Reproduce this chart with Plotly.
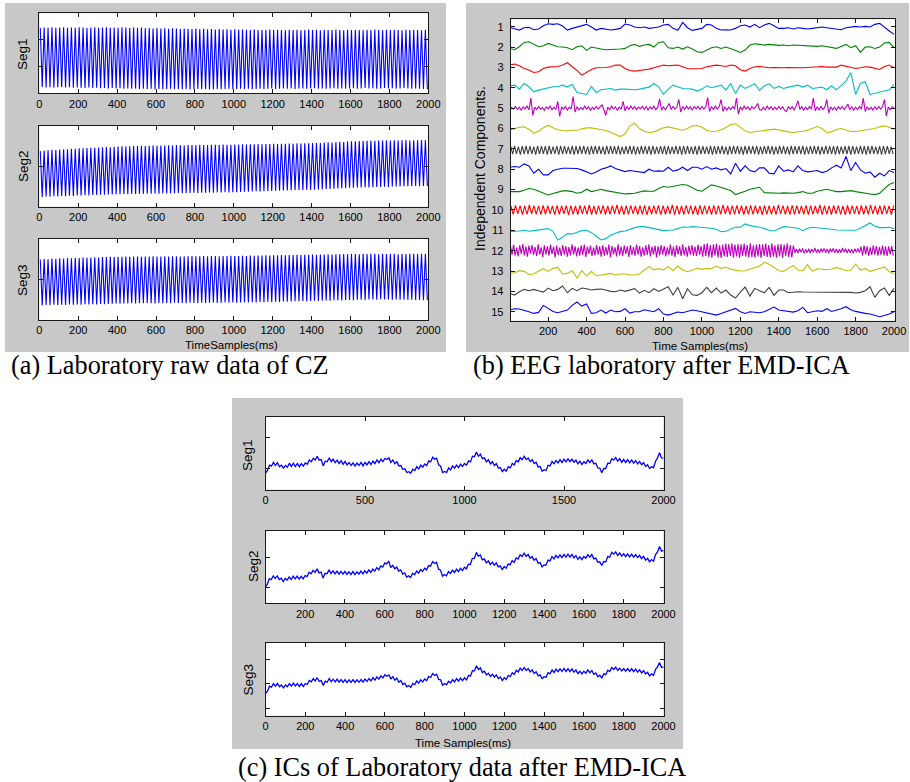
import numpy as np
import plotly.graph_objects as go

W, H = 910, 782

# ---------------- DATA ----------------
# (a) Laboratory raw data of CZ : successive peak / trough values of the (50 Hz dominated) raw signal
a_time = np.arange(5, 2000, 10)          # sample times of alternating peaks/troughs (ms)
a_seg1_peaks = [1.90,1.94,1.91,1.95,1.92,1.93,1.96,1.92,1.94,1.91,1.95,1.93,1.90,1.94,1.96,1.92,1.93,1.95,1.91,1.94,
                1.92,1.95,1.93,1.90,1.94,1.91,1.93,1.88,1.90,1.86,1.89,1.85,1.88,1.84,1.87,1.85,1.83,1.86,1.84,1.82,
                1.85,1.81,1.84,1.80,1.83,1.79,1.82,1.78,1.81,1.77,1.80,1.76,1.79,1.77,1.75,1.78,1.74,1.77,1.75,1.78,
                1.74,1.77,1.75,1.73,1.76,1.74,1.77,1.73,1.75,1.78,1.74,1.76,1.73,1.77,1.75,1.74,1.78,1.75,1.73,1.76,
                1.74,1.77,1.75,1.73,1.76,1.74,1.78,1.75,1.73,1.77,1.74,1.76,1.75,1.73,1.77,1.74,1.76,1.75,1.73,1.76]
a_seg1_troughs = [-2.52,-2.56,-2.54,-2.58,-2.55,-2.53,-2.57,-2.55,-2.59,-2.56,-2.58,-2.60,-2.57,-2.61,-2.59,-2.62,-2.60,-2.63,-2.61,-2.64,
                  -2.62,-2.65,-2.63,-2.66,-2.64,-2.67,-2.65,-2.68,-2.66,-2.69,-2.67,-2.70,-2.68,-2.66,-2.69,-2.67,-2.70,-2.68,-2.71,-2.69,
                  -2.67,-2.70,-2.68,-2.71,-2.69,-2.67,-2.70,-2.68,-2.66,-2.69,-2.67,-2.65,-2.68,-2.66,-2.69,-2.67,-2.65,-2.68,-2.66,-2.64,
                  -2.67,-2.65,-2.63,-2.66,-2.64,-2.67,-2.65,-2.63,-2.66,-2.64,-2.62,-2.65,-2.63,-2.66,-2.64,-2.62,-2.65,-2.63,-2.66,-2.64,
                  -2.62,-2.65,-2.63,-2.61,-2.64,-2.62,-2.65,-2.63,-2.61,-2.64,-2.62,-2.65,-2.63,-2.61,-2.64,-2.66,-2.63,-2.65,-2.67,-2.70]
a_seg2_peaks = [1.12,1.16,1.18,1.21,1.20,1.24,1.26,1.25,1.29,1.30,1.33,1.32,1.35,1.37,1.36,1.39,1.40,1.42,1.41,1.44,
                1.45,1.47,1.46,1.48,1.50,1.49,1.51,1.50,1.52,1.53,1.51,1.54,1.53,1.55,1.54,1.56,1.55,1.54,1.57,1.56,
                1.55,1.58,1.57,1.56,1.59,1.58,1.57,1.60,1.59,1.58,1.61,1.60,1.62,1.61,1.63,1.62,1.64,1.63,1.65,1.64,
                1.66,1.65,1.67,1.66,1.68,1.67,1.69,1.68,1.70,1.69,1.71,1.73,1.72,1.75,1.77,1.76,1.79,1.81,1.80,1.83,
                1.85,1.84,1.87,1.86,1.88,1.90,1.89,1.91,1.90,1.92,1.91,1.93,1.90,1.92,1.94,1.91,1.93,1.92,1.94,1.93]
a_seg2_troughs = [-2.28,-2.25,-2.27,-2.23,-2.24,-2.21,-2.22,-2.19,-2.20,-2.17,-2.18,-2.15,-2.16,-2.13,-2.14,-2.11,-2.12,-2.09,-2.10,-2.07,
                  -2.08,-2.06,-2.07,-2.05,-2.06,-2.04,-2.05,-2.03,-2.04,-2.02,-2.03,-2.01,-2.02,-2.00,-2.01,-1.99,-2.00,-1.98,-1.99,-1.97,
                  -1.98,-1.96,-1.97,-1.95,-1.96,-1.94,-1.95,-1.93,-1.94,-1.92,-1.93,-1.91,-1.90,-1.89,-1.88,-1.86,-1.87,-1.85,-1.84,-1.83,
                  -1.82,-1.81,-1.80,-1.79,-1.78,-1.77,-1.76,-1.77,-1.75,-1.76,-1.74,-1.72,-1.71,-1.69,-1.68,-1.66,-1.65,-1.63,-1.62,-1.60,
                  -1.59,-1.58,-1.57,-1.56,-1.57,-1.55,-1.54,-1.53,-1.52,-1.53,-1.51,-1.50,-1.51,-1.49,-1.48,-1.49,-1.47,-1.48,-1.46,-1.47]
a_seg3_peaks = [1.46,1.50,1.49,1.53,1.52,1.55,1.54,1.57,1.56,1.59,1.58,1.61,1.60,1.62,1.63,1.62,1.65,1.64,1.66,1.65,
                1.67,1.66,1.68,1.67,1.69,1.68,1.67,1.69,1.68,1.70,1.69,1.68,1.70,1.69,1.71,1.70,1.69,1.71,1.70,1.72,
                1.71,1.70,1.72,1.71,1.73,1.72,1.71,1.73,1.72,1.74,1.73,1.72,1.74,1.73,1.75,1.74,1.76,1.75,1.77,1.76,
                1.78,1.77,1.79,1.78,1.80,1.79,1.81,1.80,1.82,1.81,1.83,1.82,1.84,1.83,1.85,1.84,1.86,1.85,1.87,1.86,
                1.88,1.87,1.86,1.88,1.87,1.89,1.88,1.86,1.88,1.87,1.89,1.88,1.86,1.88,1.87,1.89,1.88,1.87,1.89,1.88]
a_seg3_troughs = [-1.92,-1.89,-1.91,-1.88,-1.90,-1.87,-1.89,-1.86,-1.88,-1.85,-1.87,-1.84,-1.86,-1.83,-1.85,-1.82,-1.84,-1.81,-1.80,-1.79,
                  -1.80,-1.78,-1.79,-1.77,-1.78,-1.76,-1.77,-1.75,-1.76,-1.78,-1.75,-1.77,-1.74,-1.76,-1.73,-1.75,-1.74,-1.76,-1.73,-1.75,
                  -1.74,-1.72,-1.75,-1.73,-1.71,-1.74,-1.72,-1.70,-1.73,-1.71,-1.72,-1.70,-1.69,-1.71,-1.68,-1.70,-1.67,-1.69,-1.66,-1.68,
                  -1.65,-1.67,-1.64,-1.66,-1.63,-1.62,-1.61,-1.60,-1.62,-1.59,-1.58,-1.60,-1.57,-1.56,-1.58,-1.55,-1.54,-1.56,-1.53,-1.52,
                  -1.54,-1.51,-1.50,-1.52,-1.49,-1.48,-1.50,-1.47,-1.49,-1.48,-1.50,-1.49,-1.51,-1.50,-1.52,-1.51,-1.53,-1.52,-1.54,-1.53]
a_xticks = [0, 200, 400, 600, 800, 1000, 1200, 1400, 1600, 1800, 2000]

# (b) EEG laboratory after EMD-ICA : 15 independent components (amplitude units, + = up)
ic_time_smooth = np.arange(0, 2001, 25)
ic_time_5 = np.arange(0, 2001, 10)
ic_time_7 = np.arange(5, 2000, 10)
ic_time_10 = np.arange(6, 2000, 12)
ic_time_12 = np.arange(4, 2000, 8)

ic1 = [-2,-5,-10,-3,-2,-9,-7,3,9,7,9,2,-10,-5,-1,5,7,-1,-10,-5,-7,-10,-8,-5,8,5,-1,-3,-1,-5,-3,-1,5,7,-5,-11,13,-3,-11,-8,-5,
       7,5,-5,-10,-9,-10,-5,3,5,-1,7,-3,5,10,3,-5,-5,-3,-7,-3,-5,-7,-5,-3,-1,-3,-5,-8,-9,-3,0,1,-1,1,-1,7,10,-3,-13,-23]
ic2 = [-4,-8,1,14,16,8,1,4,11,6,1,0,-2,-8,1,4,-10,0,-4,-6,-8,-8,-7,-6,-4,4,8,2,6,8,0,14,16,-2,-4,0,-6,1,-6,-14,-16,
       -8,-2,1,-4,0,-4,-10,-16,-9,6,10,8,6,8,6,5,6,4,6,5,3,4,1,2,4,2,0,-4,2,8,-2,4,-16,0,1,-4,0,12,14,-2]
ic3 = [7,10,5,-3,-8,-15,-13,-3,1,2,3,7,14,2,-9,-23,-15,-6,-1,-1,0,2,7,7,-3,-9,-11,-9,-8,-5,-1,3,7,5,7,7,2,-3,-4,-4,-3,
       2,5,7,5,3,7,5,-7,-11,-3,2,3,1,-1,0,-1,-1,0,-1,0,-1,0,1,2,3,1,0,1,7,3,-1,-3,-1,2,1,-3,-6,3,7,-1]
ic4 = [6,8,-4,13,3,-12,-7,-4,-2,3,3,8,3,10,-14,-17,-20,4,-14,-6,-4,-2,-7,-4,-4,-5,-6,-4,-2,2,13,3,-20,-4,8,4,-2,-3,-4,-10,-4,
       6,0,4,8,-7,13,-17,8,-2,4,12,-8,6,12,-2,4,-2,2,6,8,2,8,-2,0,2,-6,6,-6,8,20,46,-20,13,18,-20,-17,-12,-11,-6,10]
ic5 = [-8,2,-3,5,-4,3,-6,4,-2,6,-5,30,-22,3,-4,5,-3,2,-6,4,
       -2,6,-5,3,-4,20,-25,4,-3,5,-6,3,-2,35,-12,4,-5,2,-4,6,
       -3,4,-6,2,-4,5,-3,3,10,-4,-22,3,-5,6,-2,4,-6,3,-3,20,
       -8,5,-4,6,-3,4,-5,3,-2,6,-4,5,-6,4,-3,6,-5,3,28,-6,
       4,-5,6,14,-4,5,-3,4,26,-12,5,-4,6,-3,4,-6,5,-2,6,-4,
       5,-3,4,32,-10,5,-4,6,-3,4,26,-10,4,-6,3,-4,5,-3,30,-18,
       4,-5,6,-3,4,-6,5,-2,4,14,-4,-6,3,-5,6,-3,4,-5,3,-4,
       5,-3,4,-6,-10,5,-3,4,-5,6,22,-4,5,-6,3,-4,5,-3,30,-8,
       4,-5,6,-4,3,26,-14,4,-5,3,-6,4,-3,5,-4,3,12,-5,4,-6,
       3,-4,5,-3,30,-10,4,-5,3,-6,4,-4,5,-3,4,26,-24,3,-5,4,2]
ic6 = [-5,-1,4,5,-2,-14,-8,2,10,2,-4,-6,-7,-5,-5,-1,2,2,0,-2,-6,-11,-17,-24,-16,8,16,0,-8,-12,-10,-4,2,5,2,-2,-5,0,8,9,4,
       -5,-9,-8,-4,3,12,14,3,-7,-12,-10,-8,-6,-4,-2,-4,-8,-10,-12,-11,-8,-5,0,6,0,-12,-10,-3,0,-4,-9,-9,-7,-5,-3,0,5,8,4,-3]
ic7 = [8,-16,9,-15,7,-17,8,-16,9,-16,8,-15,7,-17,9,-16,8,-15,8,-17,
       9,-16,7,-15,8,-17,9,-16,8,-15,7,-16,9,-17,8,-16,8,-15,9,-16,
       7,-17,8,-16,9,-15,8,-16,7,-17,9,-16,8,-15,8,-16,9,-17,7,-16,
       8,-15,9,-16,8,-17,7,-16,9,-15,8,-16,8,-17,9,-16,7,-15,8,-16,
       9,-17,8,-16,7,-15,9,-16,8,-17,8,-16,9,-15,7,-16,8,-17,9,-16,
       8,-15,7,-16,9,-17,8,-16,8,-15,9,-16,7,-17,8,-16,9,-15,8,-16,
       7,-17,9,-16,8,-15,8,-16,9,-17,7,-16,8,-15,9,-16,8,-17,7,-16,
       9,-15,8,-16,7,-17,9,-16,8,-15,8,-16,9,-17,7,-16,8,-15,9,-16,
       8,-17,7,-16,9,-15,8,-16,8,-17,9,-16,7,-15,8,-16,9,-17,8,-16,
       7,-15,9,-16,8,-17,8,-16,9,-15,7,-16,8,-17,9,-16,8,-15,7,-16]
ic8 = [6,8,6,16,10,-12,0,-17,-17,-4,0,3,3,3,2,-2,-8,-14,-8,0,4,10,2,-2,-7,-4,-6,-8,-10,0,-6,-5,-6,6,-6,-2,6,-4,6,6,0,
       8,0,4,-2,2,-14,18,-6,10,-4,-8,4,4,-12,-14,10,-6,-2,-8,10,-4,-8,-6,-4,-10,-6,4,12,4,38,-4,20,-2,-12,-8,-24,-12,-20,-4,-10]
ic9 = [-6,-6,-6,-2,3,1,-5,-12,-16,-12,-7,-4,-4,-6,-11,-8,1,-6,-3,1,-3,-6,-9,-11,-13,-12,-11,-7,-4,-5,-5,3,9,7,9,11,15,13,5,-2,-5,
       5,14,11,6,2,-3,-15,-11,-5,1,5,7,-9,-10,-11,-11,-10,-11,-11,-9,-6,-11,-11,-5,-3,1,-3,-6,-6,-5,-3,-6,-9,-11,-13,-15,-11,3,15,21]
ic10 = [12,-13,14,-12,13,-14,12,-13,15,-12,13,-13,12,-14,14,-13,13,-12,12,-14,
        14,-13,12,-12,13,-15,13,-13,12,-14,14,-12,13,-13,15,-14,12,-13,13,-12,
        14,-14,12,-13,13,-12,15,-13,12,-14,13,-13,14,-12,12,-14,13,-13,14,-15,
        12,-13,13,-12,14,-14,13,-13,12,-12,15,-14,13,-13,12,-14,14,-12,13,-13,
        12,-15,14,-13,13,-12,12,-14,14,-13,13,-13,15,-12,12,-14,13,-13,14,-12,
        13,-14,12,-13,14,-13,13,-12,12,-15,14,-13,13,-13,12,-14,15,-12,13,-13,
        12,-14,14,-13,13,-12,12,-13,14,-14,13,-13,12,-12,15,-14,13,-13,12,-14,
        14,-12,13,-13,12,-15,14,-13,13,-12,12,-14,14,-13,13,-13,15,-12,12,-14,
        13,-13,14,-12,12,-14,13]
ic11 = [-4,-4,-2,0,-3,-1,1,4,5,-3,-29,-21,-10,-11,-7,-1,0,-7,-17,-29,-25,-15,-9,-4,-2,4,8,11,11,8,5,1,-1,0,1,5,10,9,11,10,9,
        6,6,3,-4,-3,4,10,9,19,14,12,9,5,0,-2,4,11,10,8,6,-1,6,9,8,6,6,3,1,1,1,0,0,6,14,22,13,8,8,9,5]
ic12 = [14,-12,18,-15,9,-17,16,-10,20,-14,12,-18,15,-9,17,-13,11,-16,19,-12,
        10,-19,16,-11,13,-15,18,-10,12,-20,15,-13,9,-16,17,-12,14,-18,11,-14,
        19,-11,13,-17,10,-15,16,-13,18,-19,12,-10,15,-16,9,-14,17,-12,13,-18,
        16,-15,11,-13,18,-20,14,-11,10,-17,19,-14,12,-16,15,-10,13,-19,17,-13,
        11,-16,18,-12,14,-18,10,-15,16,-13,19,-17,12,-11,15,-20,13,-14,17,-12,
        14,-17,10,-13,18,-15,12,-19,16,-11,13,-16,19,-14,11,-18,15,-12,17,-15,
        12,-16,18,-13,14,
        -18,20,-16,22,-19,17,-21,19,-15,21,-20,16,-22,18,-17,21,-19,20,-16,22,
        -21,18,-17,20,-22,19,-16,21,-18,17,-20,22,-19,16,-21,18,-17,20,-22,19,
        -16,21,-19,17,-20,22,-18,16,-21,19,-17,20,-22,18,-16,21,-19,17,-20,15,
        -6,5,-7,6,-5,7,-8,4,-6,6,-7,5,-5,8,-6,4,-7,6,-5,7,
        -6,5,-8,6,-4,7,-6,5,-7,4,-6,8,-5,6,-7,5,-6,4,-8,6,
        -5,7,-6,
        12,-14,15,-11,13,-16,10,-13,16,-12,14,-15,11,-13,15,-14,12,-16,13,-11,
        14,-15]
ic13 = [-7,-5,1,-1,-10,-9,0,7,-1,8,11,-9,-7,1,-21,1,-15,-1,-15,-12,-9,-7,-12,-9,-9,-12,-12,-9,3,13,3,7,3,13,1,15,3,-2,3,8,5,
        8,7,15,8,12,5,3,0,1,5,9,15,26,20,11,1,-1,9,17,3,1,19,-1,7,5,4,6,10,7,1,3,21,3,7,-1,3,9,12,-2,-8]
ic14 = [-6,-11,-1,6,2,6,2,-2,10,2,6,16,-4,9,2,10,8,4,6,7,4,0,-1,4,0,4,8,-5,3,-4,8,0,8,14,-11,12,-22,8,-10,-12,-4,
        12,-4,10,-5,4,-11,-20,-2,13,-14,9,2,-4,12,-12,4,4,-4,-2,-1,-2,-2,-2,-2,-2,-2,-2,-2,-1,-1,-3,-5,-3,2,14,-18,2,10,-12,9]
ic15 = [5,9,8,5,0,-5,-2,19,11,1,-3,0,5,19,29,17,23,-5,-3,5,-4,5,0,1,9,-4,0,0,6,3,0,9,-7,-10,-6,-1,-3,0,5,3,0,
        -5,-7,-10,-5,0,5,10,0,-5,0,-2,-3,0,7,14,5,3,3,-1,3,13,-3,0,3,1,9,1,4,9,15,6,1,-3,-5,-7,-10,-15,-11,-7,0]
ic_numbers = list(range(1, 16))
ic_labels = [str(i) for i in ic_numbers]
b_xticks = [200, 400, 600, 800, 1000, 1200, 1400, 1600, 1800, 2000]

# (c) ICs of Laboratory data after EMD-ICA (noisy traces, read every 10 ms)
c_time = np.arange(0, 2001, 10)
c_seg1 = [1.65,1.93,2.45,2.35,2.73,2.43,2.70,2.30,2.45,2.15,2.42,2.25,2.65,2.33,2.65,2.32,2.62,2.30,2.60,2.35,
          2.68,2.55,2.97,2.80,3.15,2.98,3.35,2.95,3.02,2.38,2.85,2.80,3.20,2.82,3.05,2.70,2.95,2.62,2.90,2.55,
          2.82,2.48,2.72,2.42,2.68,2.36,2.66,2.42,2.72,2.38,2.72,2.48,2.80,2.52,2.85,2.62,2.98,2.70,3.05,2.80,
          3.12,3.02,3.18,2.72,2.98,2.60,2.80,2.38,2.42,2.02,2.12,1.72,1.80,1.65,2.05,1.92,2.30,2.08,2.45,2.25,
          2.58,2.40,2.88,2.78,3.25,3.05,3.15,2.48,2.35,1.72,1.82,1.72,2.18,1.98,2.38,2.15,2.45,2.20,2.55,2.32,
          2.62,2.45,2.88,2.78,3.35,3.30,3.78,3.35,3.55,3.10,3.18,2.78,3.00,2.58,2.80,2.42,2.60,2.15,2.22,1.82,
          2.05,1.85,2.30,2.18,2.62,2.48,2.92,2.78,3.20,3.00,3.35,3.02,3.18,2.80,3.00,2.62,2.75,2.28,2.32,1.85,
          2.00,1.92,2.45,2.38,2.82,2.60,2.92,2.68,3.00,2.72,3.05,2.78,3.08,2.80,3.06,2.75,2.95,2.58,2.85,2.52,
          2.80,2.62,2.98,2.70,3.00,2.58,2.65,2.18,2.15,1.70,2.12,2.12,2.65,2.62,3.10,2.95,3.20,2.85,3.10,2.75,
          3.02,2.72,3.00,2.68,2.98,2.65,2.90,2.58,2.82,2.50,2.70,2.32,2.50,2.12,2.30,2.20,2.85,3.18,3.70,3.18,
          3.15]
c_seg2 = [1.65,1.90,2.45,2.38,2.75,2.48,2.75,2.38,2.52,2.18,2.48,2.32,2.65,2.38,2.72,2.45,2.72,2.42,2.70,2.45,
          2.78,2.68,3.10,2.95,3.30,3.10,3.45,3.05,3.12,2.52,3.00,2.95,3.35,2.98,3.25,2.95,3.22,2.92,3.20,2.92,
          3.20,2.90,3.15,2.88,3.18,2.88,3.15,2.92,3.22,2.95,3.25,3.02,3.35,3.10,3.42,3.22,3.58,3.35,3.75,3.62,
          4.05,3.95,4.22,3.58,3.80,3.45,3.62,3.22,3.35,2.92,3.05,2.62,2.75,2.58,3.00,2.85,3.22,3.02,3.38,3.18,
          3.52,3.35,3.78,3.72,4.18,3.98,4.10,3.42,3.32,2.72,2.88,2.75,3.18,2.98,3.32,3.08,3.42,3.18,3.50,3.28,
          3.62,3.45,3.92,3.88,4.50,4.50,5.10,4.72,4.85,4.35,4.45,4.05,4.25,3.88,4.12,3.82,4.05,3.65,3.75,3.38,
          3.68,3.52,3.95,3.85,4.28,4.10,4.55,4.42,4.85,4.68,5.02,4.70,4.90,4.52,4.68,4.32,4.48,4.02,4.08,3.65,
          3.85,3.82,4.32,4.25,4.68,4.45,4.80,4.55,4.85,4.58,4.90,4.62,4.92,4.62,4.90,4.55,4.78,4.40,4.65,4.38,
          4.68,4.52,4.88,4.62,4.88,4.45,4.52,4.10,4.15,3.78,4.18,4.15,4.68,4.62,5.10,4.92,5.15,4.78,5.05,4.72,
          4.95,4.68,4.95,4.65,4.92,4.62,4.88,4.58,4.80,4.48,4.70,4.32,4.50,4.15,4.38,4.22,4.88,5.15,5.68,5.22,
          5.30]
c_seg3 = [2.22,2.45,2.95,2.85,3.20,2.95,3.22,2.90,3.08,2.78,3.08,2.90,3.20,2.95,3.25,2.98,3.22,2.92,3.20,2.92,
          3.22,3.12,3.52,3.38,3.70,3.48,3.80,3.42,3.52,3.02,3.45,3.35,3.72,3.40,3.65,3.38,3.66,3.36,3.62,3.34,
          3.60,3.30,3.58,3.32,3.60,3.32,3.58,3.34,3.62,3.35,3.66,3.42,3.72,3.48,3.80,3.55,3.88,3.65,3.98,3.78,
          4.10,3.95,4.08,3.68,3.90,3.55,3.75,3.35,3.52,3.12,3.25,2.88,3.02,2.82,3.22,3.10,3.48,3.25,3.58,3.38,
          3.68,3.50,3.92,3.82,4.22,4.02,4.15,3.62,3.58,3.05,3.22,3.08,3.45,3.28,3.60,3.38,3.70,3.45,3.75,3.50,
          3.80,3.58,4.02,3.98,4.50,4.48,5.00,4.62,4.78,4.32,4.45,4.08,4.25,3.92,4.15,3.85,4.08,3.72,3.88,3.52,
          3.80,3.62,4.02,3.90,4.30,4.12,4.55,4.38,4.75,4.52,4.82,4.52,4.72,4.38,4.58,4.22,4.40,3.98,4.08,3.70,
          3.90,3.85,4.30,4.18,4.58,4.32,4.65,4.40,4.68,4.42,4.72,4.42,4.70,4.40,4.68,4.35,4.58,4.22,4.45,4.18,
          4.45,4.25,4.58,4.30,4.52,4.15,4.28,3.90,4.05,3.78,4.18,4.10,4.55,4.42,4.82,4.62,4.85,4.52,4.75,4.48,
          4.72,4.45,4.70,4.42,4.70,4.40,4.65,4.35,4.58,4.28,4.50,4.18,4.35,3.98,4.18,4.02,4.65,4.88,5.32,4.82,
          4.88]
c1_xticks = [0, 500, 1000, 1500, 2000]
c2_xticks = [200, 400, 600, 800, 1000, 1200, 1400, 1600, 1800, 2000]
c3_xticks = [0, 200, 400, 600, 800, 1000, 1200, 1400, 1600, 1800, 2000]

# ---------------- LAYOUT HELPERS ----------------
def px(x):
    return x / W

def py(y):
    return 1 - y / H

def interleave(p, t):
    out = []
    for u, v in zip(p, t):
        out += [u, v]
    return out

# axes boxes in pixels: (left, right, top, bottom)
boxes = {
    1: (39.3, 428.3, 13.3, 93.3),
    2: (39.3, 428.3, 125.7, 206.7),
    3: (39.3, 428.3, 238.7, 320.0),
    4: (510.7, 895.0, 19.3, 320.7),
    5: (265.5, 663.5, 416.7, 489.7),
    6: (265.5, 663.5, 530.7, 603.3),
    7: (265.5, 663.5, 642.7, 715.7),
}
xranges = {1: [0, 2000], 2: [0, 2000], 3: [0, 2000], 4: [5, 2005], 5: [0, 2000], 6: [1, 2000], 7: [0, 2000]}
yranges = {1: [-3, 3], 2: [-3, 3], 3: [-3, 3], 4: [15.44, 0.636], 5: [0, 7.3], 6: [0, 7.27], 7: [0, 7.3]}
xtickv = {1: a_xticks, 2: a_xticks, 3: a_xticks, 4: b_xticks, 5: c1_xticks, 6: c2_xticks, 7: c3_xticks}
ytickv = {1: [-1, 1], 2: [0], 3: [0], 4: ic_numbers, 5: [2.17, 5.2], 6: [1.63, 4.57], 7: [0.77, 3.27, 5.67]}

AX = '#1a1a1a'
SANS = 'Liberation Sans, Arial, sans-serif'
SERIF = 'Liberation Serif, Times New Roman, serif'

fig = go.Figure()

def ax_names(k):
    return ('x' if k == 1 else f'x{k}'), ('y' if k == 1 else f'y{k}')

# (a) traces
for k, (pk, tr) in zip([1, 2, 3], [(a_seg1_peaks, a_seg1_troughs), (a_seg2_peaks, a_seg2_troughs),
                                   (a_seg3_peaks, a_seg3_troughs)]):
    xa, ya = ax_names(k)
    fig.add_trace(go.Scatter(x=a_time, y=interleave(pk, tr), mode='lines',
                             line=dict(color='#0000ff', width=1.1), xaxis=xa, yaxis=ya,
                             showlegend=False, hoverinfo='skip'))

# (b) traces
IC_GAIN = 1.0 / 61.0
ic_colors = ['#0000ff', '#008000', '#ff0000', '#00bfbf', '#bf00bf', '#bfbf00', '#404040']
ic_data = [ic1, ic2, ic3, ic4, ic5, ic6, ic7, ic8, ic9, ic10, ic11, ic12, ic13, ic14, ic15]
ic_times = {5: ic_time_5, 7: ic_time_7, 10: ic_time_10, 12: ic_time_12}
for i, vals in zip(ic_numbers, ic_data):
    t = ic_times.get(i, ic_time_smooth)
    fig.add_trace(go.Scatter(x=t, y=[i - v * IC_GAIN for v in vals], mode='lines',
                             line=dict(color=ic_colors[(i - 1) % 7], width=1.1),
                             xaxis='x4', yaxis='y4', showlegend=False, hoverinfo='skip'))

# (c) traces
for k, vals in zip([5, 6, 7], [c_seg1, c_seg2, c_seg3]):
    xa, ya = ax_names(k)
    fig.add_trace(go.Scatter(x=c_time, y=vals, mode='lines',
                             line=dict(color='#0000ff', width=1.3), xaxis=xa, yaxis=ya,
                             showlegend=False, hoverinfo='skip'))

layout = dict(width=W, height=H, margin=dict(l=0, r=0, t=0, b=0), template='none',
              paper_bgcolor='white', plot_bgcolor='rgba(0,0,0,0)', showlegend=False,
              font=dict(family=SANS, size=11, color='black'))

for k, (l, r, t, b) in boxes.items():
    xkey = 'xaxis' if k == 1 else f'xaxis{k}'
    ykey = 'yaxis' if k == 1 else f'yaxis{k}'
    xa, ya = ax_names(k)
    common = dict(showline=True, linecolor=AX, linewidth=1, mirror='allticks', ticks='inside',
                  ticklen=4, tickwidth=1, tickcolor=AX, showgrid=False, zeroline=False,
                  automargin=False, fixedrange=True, tickfont=dict(family=SANS, size=11, color='black'))
    layout[xkey] = dict(common, domain=[px(l), px(r)], range=xranges[k], anchor=ya,
                        tickmode='array', tickvals=xtickv[k])
    ydict = dict(common, domain=[py(b), py(t)], range=yranges[k], anchor=xa,
                 tickmode='array', tickvals=ytickv[k])
    if k == 4:
        ydict.update(ticktext=ic_labels, ticklabelstandoff=4)
    else:
        ydict.update(showticklabels=False)
    layout[ykey] = ydict

shapes = []
for (x0, x1, y0, y1) in [(5, 446, 3, 352), (466, 909, 3, 352), (232, 683, 398, 749)]:
    shapes.append(dict(type='rect', xref='paper', yref='paper', x0=px(x0), x1=px(x1), y0=py(y1), y1=py(y0),
                       fillcolor='#c8c8c8', line=dict(width=0), layer='below'))
for (l, r, t, b) in boxes.values():
    shapes.append(dict(type='rect', xref='paper', yref='paper', x0=px(l), x1=px(r), y0=py(b), y1=py(t),
                       fillcolor='white', line=dict(width=0), layer='below'))
layout['shapes'] = shapes

ann = []
def text(s, x, y, size, family=SANS, angle=0, xanchor='center'):
    ann.append(dict(text=s, x=px(x), y=py(y), xref='paper', yref='paper', showarrow=False,
                    textangle=angle, xanchor=xanchor, yanchor='middle',
                    font=dict(family=family, size=size, color='black')))

text('Seg1', 23, 54, 13.5, angle=-90)
text('Seg2', 23, 166, 13.5, angle=-90)
text('Seg3', 23, 280, 13.5, angle=-90)
text('TimeSamples(ms)', 232, 345, 11.5)
text('(a) Laboratory raw data of CZ', 9, 366, 26.3, family=SERIF, xanchor='left')

text('Independent Components.', 480, 169, 14, angle=-90)
text('Time Samples(ms)', 700, 346, 11.5)
text('(b) EEG laboratory after EMD-ICA', 471, 366, 26.3, family=SERIF, xanchor='left')

text('Seg1', 247, 455, 13.5, angle=-90)
text('Seg2', 253, 566, 13.5, angle=-90)
text('Seg3', 247.5, 679, 13.5, angle=-90)
text('Time Samples(ms)', 462.5, 743, 11.5)
text('(c) ICs of Laboratory data after EMD-ICA', 236, 767, 26.3, family=SERIF, xanchor='left')
layout['annotations'] = ann

fig.update_layout(**layout)
# the page's default 8px body margin would shift the 910x782 figure; remove it
fig.write_html('out.html', config={'displayModeBar': False},
               post_script="document.body.style.margin='0px';")
